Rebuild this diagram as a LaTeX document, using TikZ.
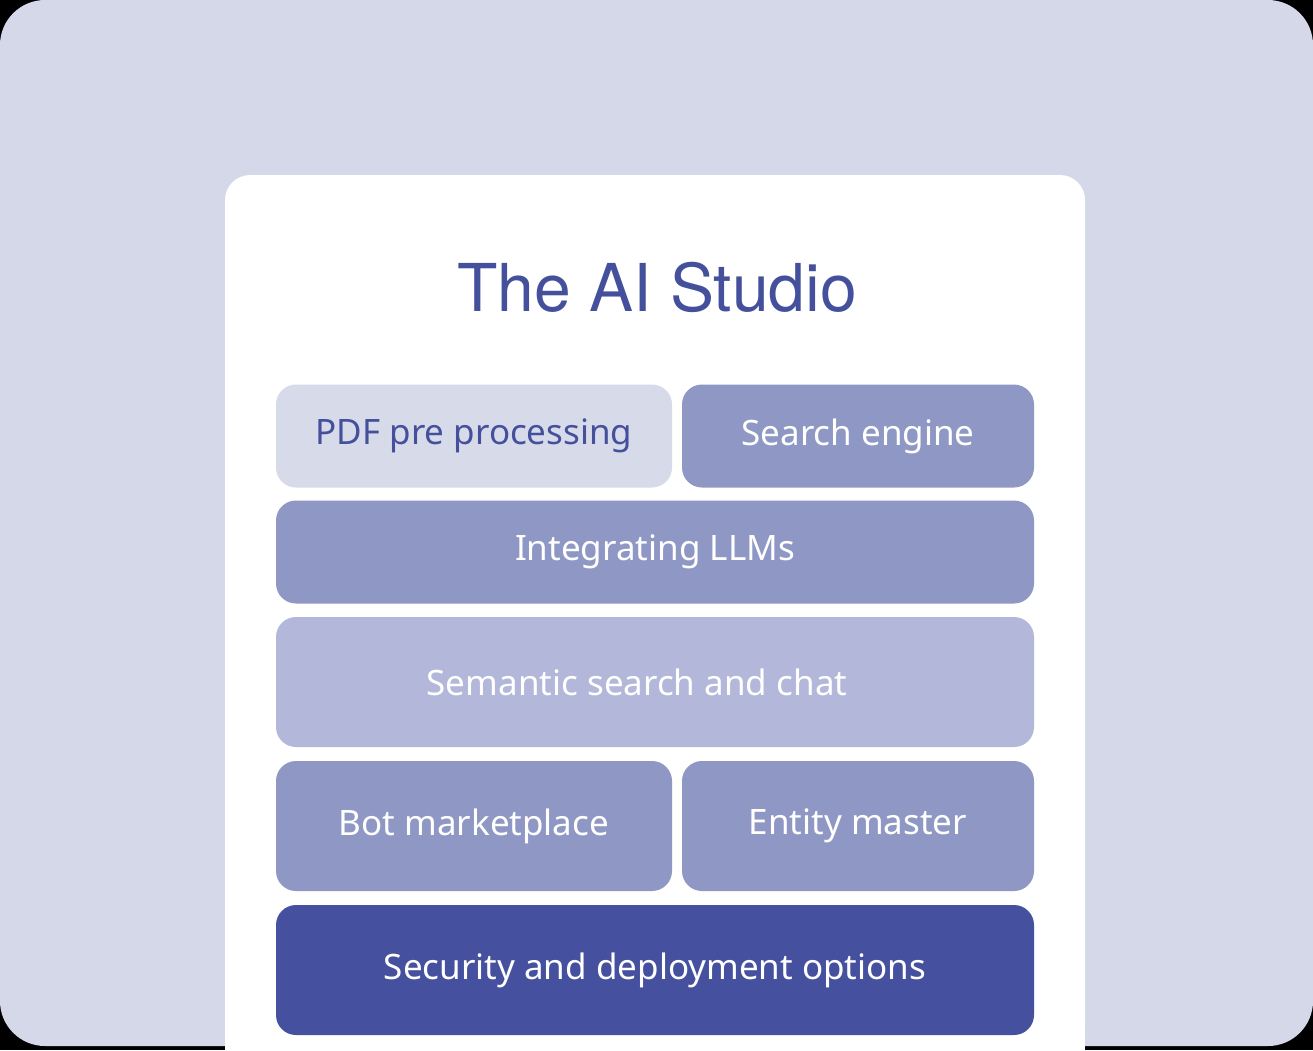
\documentclass[tikz,border=0pt]{standalone}
\usepackage{fontspec}
\setmainfont{Noto Sans}
\newfontfamily\titlefont{TeX Gyre Heros}
\definecolor{bgl}{HTML}{D4D8E8}
\definecolor{pdfc}{HTML}{D6DAE9}
\definecolor{midc}{HTML}{8F97C5}
\definecolor{semc}{HTML}{B3B8DA}
\definecolor{darkc}{HTML}{45519E}
\definecolor{txtc}{HTML}{44509C}
\tikzset{
  layer/.style={rectangle, rounded corners=20pt, inner sep=0pt, font=\fontsize{35}{40}\selectfont, text=white},
}
\begin{document}
\begin{tikzpicture}[x=1pt,y=-1pt]
\useasboundingbox (0,0) rectangle (1313,1050);
\fill[black] (0,0) rectangle (1313,1050);
\fill[bgl, rounded corners=45pt] (0,0) rectangle (1313,1046);
\fill[white, rounded corners=25pt] (225,175) rectangle (1085,1050);
\fill[white] (225,1000) rectangle (1085,1050);
\node[font=\titlefont\fontsize{66}{70}\selectfont, text=txtc] (title) at (657,287) {The AI Studio};
\node[layer, fill=pdfc, text=txtc, minimum width=396pt, minimum height=103pt] (pdf) at (474,436) {PDF pre processing};
\node[layer, fill=midc, minimum width=352pt, minimum height=103pt] (search) at (858,436) {Search engine};
\node[layer, fill=midc, minimum width=758pt, minimum height=103pt] (llm) at (655,552) {Integrating LLMs};
\node[layer, fill=semc, minimum width=758pt, minimum height=130pt] (sem) at (655,682) {\hspace*{-36pt}Semantic search and chat};
\node[layer, fill=midc, minimum width=396pt, minimum height=130pt] (bot) at (474,826) {Bot marketplace};
\node[layer, fill=midc, minimum width=352pt, minimum height=130pt] (entity) at (858,826) {Entity master};
\node[layer, fill=darkc, minimum width=758pt, minimum height=130pt] (sec) at (655,970) {Security and deployment options};
\end{tikzpicture}
\end{document}
